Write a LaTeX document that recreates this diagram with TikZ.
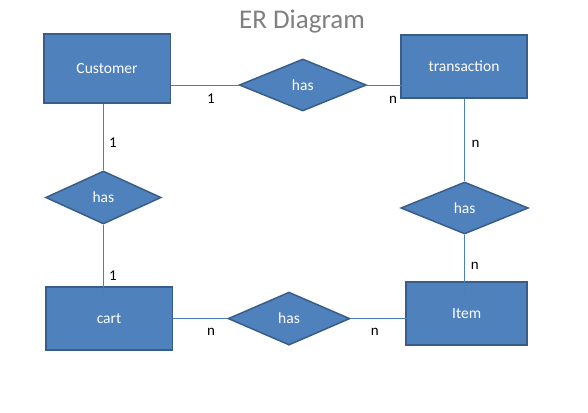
\documentclass[tikz,border=0pt]{standalone}
\usepackage{fontspec}
\setmainfont{Carlito}
\usetikzlibrary{shapes.geometric}
\definecolor{boxfill}{HTML}{4F81BD}
\definecolor{boxline}{HTML}{385D8A}
\definecolor{linkline}{HTML}{4A7EBB}
\definecolor{titlegray}{HTML}{7F7F7F}
\tikzset{
	entity/.style={rectangle, draw=boxline, fill=boxfill, line width=1.5pt, text=white, inner sep=0pt, font=\fontsize{15.5}{18}\selectfont},
	relation/.style={diamond, draw=boxline, fill=boxfill, line width=1.5pt, text=white, inner sep=0pt, font=\fontsize{15.5}{18}\selectfont},
	link/.style={draw=linkline, line width=1pt},
	card/.style={text=black, inner sep=0pt, font=\fontsize{15}{18}\selectfont}
}

\begin{document}
\begin{tikzpicture}[x=1pt, y=-1pt]
			%%%%% START %%%%%
			\useasboundingbox (0, 0) rectangle (588, 412);
			\node[text=titlegray, font=\fontsize{27}{30}\selectfont] (title) at (302, 22) {ER Diagram};
			
			\node[entity, minimum width=126.5, minimum height=69] (customer) at (107, 68.5) {Customer};
			\node[entity, minimum width=126, minimum height=63] (transaction) at (464, 66.5) {transaction};
			\node[entity, minimum width=126.5, minimum height=63] (cart) at (109, 318.5) {cart};
			\node[entity, minimum width=121, minimum height=63] (item) at (466.7, 313.3) {Item};
			
			\node[relation, minimum width=127, minimum height=52] (hastop) at (302.8, 85) {has};
			\node[relation, minimum width=115.5, minimum height=53] (hasleft) at (103.4, 197.5) {has};
			\node[relation, minimum width=127.5, minimum height=52] (hasright) at (464.6, 208) {has};
			\node[relation, minimum width=121.7, minimum height=53] (hasbottom) at (289, 318.6) {has};
			
			\draw[link] (customer.east |- hastop.west) -- (hastop.west);
			\draw[link] (hastop.east) -- ([xshift=8]hastop.east -| transaction.west);
			\draw[link] (hasleft.north |- customer.south) -- (hasleft.north);
			\draw[link] (hasleft.south) -- ([yshift=-5]hasleft.south |- cart.north);
			\draw[link] (hasright.north |- transaction.south) -- (hasright.north);
			\draw[link] (hasright.south) -- ([yshift=-10]hasright.south |- item.north);
			\draw[link] (cart.east |- hasbottom.west) -- (hasbottom.west);
			\draw[link] (hasbottom.east) -- ([xshift=3]hasbottom.east -| item.west);
			
			\node[card] (c1) at (211, 99) {1};
			\node[card] (c2) at (393, 100) {n};
			\node[card] (c3) at (112.8, 143) {1};
			\node[card] (c4) at (475.5, 144) {n};
			\node[card] (c5) at (112.8, 276) {1};
			\node[card] (c6) at (474.8, 266) {n};
			\node[card] (c7) at (211, 332) {n};
			\node[card] (c8) at (374.8, 332) {n};
			%%%%% END %%%%%
\end{tikzpicture}
\end{document}
